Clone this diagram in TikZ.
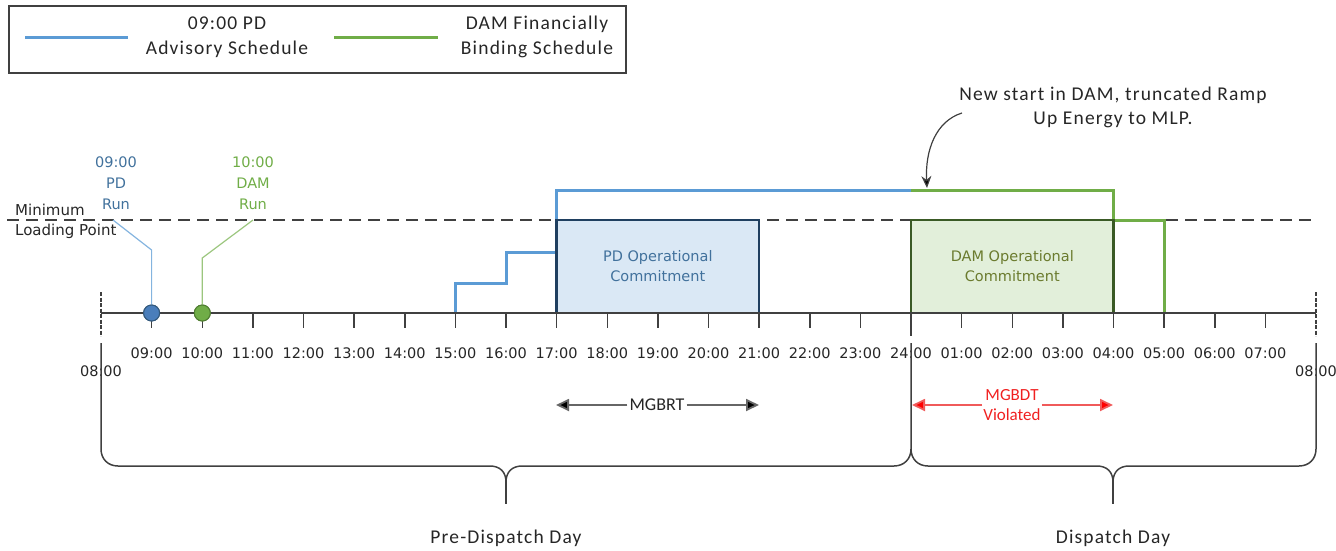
\documentclass[tikz,border=0pt]{standalone}
\usepackage{fontspec}
\setmainfont{Carlito}
\newfontfamily\dvs{DejaVu Sans}
\newfontfamily\calsp{Carlito}[LetterSpace=6]
\usetikzlibrary{arrows.meta}
\definecolor{pdblue}{HTML}{5B9BD5}
\definecolor{pdtext}{HTML}{41719C}
\definecolor{pddot}{HTML}{4A7EBB}
\definecolor{damgreen}{HTML}{70AD47}
\definecolor{damdot}{HTML}{507E32}
\definecolor{pdfill}{HTML}{DAE8F5}
\definecolor{pdedge}{HTML}{1F3F60}
\definecolor{damfill}{HTML}{E2EFDA}
\definecolor{damedge}{HTML}{3A5A25}
\definecolor{damtext}{HTML}{6B7B2E}
\definecolor{axisgray}{HTML}{404040}
\definecolor{txt}{HTML}{262626}
\definecolor{redtxt}{HTML}{F02020}
\definecolor{redline}{HTML}{F05A5A}
\tikzset{
  legendbox/.style={draw=axisgray, line width=1.5pt, minimum width=617pt, minimum height=67pt, inner sep=0pt, outer sep=0pt},
  legtext/.style={font=\calsp\fontsize{19.5}{25}\selectfont, text=txt, align=center, inner sep=0pt},
  pdsched/.style={draw=pdblue, line width=3pt},
  damsched/.style={draw=damgreen, line width=3pt},
  mlpline/.style={draw=axisgray, line width=1.5pt, dash pattern=on 12pt off 7pt},
  smalltext/.style={font=\dvs\fontsize{15}{20}\selectfont, text=txt, inner sep=0pt},
  timelbl/.style={font=\dvs\fontsize{14.5}{17}\selectfont, text=txt, inner sep=0pt},
  runtext/.style={font=\dvs\fontsize{14.5}{21}\selectfont, align=center, inner sep=0pt},
  pdbox/.style={draw=pdedge, line width=2.5pt, fill=pdfill, minimum width=202.5pt, minimum height=93pt, inner sep=0pt, outer sep=0pt, align=center, text=pdtext, font=\dvs\fontsize{14.5}{20}\selectfont},
  dambox/.style={draw=damedge, line width=2.5pt, fill=damfill, minimum width=202.5pt, minimum height=93pt, inner sep=0pt, outer sep=0pt, align=center, text=damtext, font=\dvs\fontsize{14.5}{20}\selectfont},
  axis/.style={draw=axisgray, line width=1.5pt},
  tick/.style={draw=axisgray, line width=1.5pt},
  endtick/.style={draw=axisgray, line width=2.2pt, dash pattern=on 4pt off 1.5pt},
  brace/.style={draw=axisgray, line width=1.5pt},
  dot/.style={circle, minimum size=16pt, inner sep=0pt, line width=1pt},
  runline/.style={line width=1.2pt},
  mglbl/.style={font=\fontsize{18}{20}\selectfont, inner sep=2pt, align=center},
  annot/.style={font=\calsp\fontsize{19.5}{24}\selectfont, text=txt, align=center, inner sep=0pt},
  daylbl/.style={font=\calsp\fontsize{19.5}{24}\selectfont, text=txt, inner sep=0pt},
  mgtip/.style={-{Triangle[length=13pt,width=12pt,fill=#1]}}
}
\begin{document}
\begin{tikzpicture}[x=1pt,y=-1pt]
\useasboundingbox (0,0) rectangle (1336,550);

% legend
\node[legendbox] (legend) at (317.5,39.5) {};
\coordinate (lbA) at (25,37); \coordinate (lbB) at (128,37);
\draw[pdsched] (lbA) -- (lbB);
\coordinate (lgA) at (334,37); \coordinate (lgB) at (438,37);
\draw[damsched] (lgA) -- (lgB);
\node[legtext] (legpd) at (227,37) {09:00 PD\\Advisory Schedule};
\node[legtext] (legdam) at (537,37) {DAM Financially\\Binding Schedule};

% minimum loading point
\coordinate (mlpL) at (7,220); \coordinate (mlpR) at (1317,220);
\draw[mlpline] (mlpL) -- (mlpR);
\node[smalltext, anchor=west, align=left] (mlp) at (15,221) {Minimum\\Loading Point};

% schedules
\coordinate (b0) at (455.4,313); \coordinate (b1) at (455.4,283);
\coordinate (b2) at (506,283); \coordinate (b3) at (506,252);
\coordinate (b4) at (556.6,252); \coordinate (b5) at (556.6,190);
\coordinate (sw) at (911,190);
\draw[pdsched, line join=miter] (b0) -- (b1) -- (b2) -- (b3) -- (b4) -- (b5) -- (sw);
\coordinate (g1) at (1113.5,190); \coordinate (g2) at (1113.5,220);
\coordinate (g3) at (1164,220); \coordinate (g4) at (1164,313);
\draw[damsched, line join=miter] (sw) -- (g1) -- (g2) -- (g3) -- (g4);

% operational commitment boxes
\node[pdbox] (pdbox) at (657.8,266.5) {PD Operational\\Commitment};
\node[dambox] (dambox) at (1012.3,266.5) {DAM Operational\\Commitment};

% axis
\coordinate (axL) at (101,313); \coordinate (axR) at (1316,313);
\draw[axis] (axL) -- (axR);
\foreach \h in {1,...,23} \draw[tick] ({101+50.625*\h},313) -- ++(0,15);
\draw[tick, line width=2pt] (911,313) -- (911,336);
\draw[endtick] (101,292) -- (101,336);
\draw[endtick] (1316,292) -- (1316,336);
\foreach \h/\t in {1/09:00,2/10:00,3/11:00,4/12:00,5/13:00,6/14:00,7/15:00,8/16:00,9/17:00,10/18:00,11/19:00,12/20:00,13/21:00,14/22:00,15/23:00,16/24:00,17/01:00,18/02:00,19/03:00,20/04:00,21/05:00,22/06:00,23/07:00}
  \node[timelbl] (t\h) at ({101+50.625*\h},353) {\t};
\node[timelbl] (t0) at (101,371) {08:00};
\node[timelbl] (t24) at (1316,371) {08:00};

% braces
\draw[brace] (101,343) -- (101,449) .. controls (101,459) and (108,466) .. (118,466) -- (490,466)
  .. controls (500,466) and (506,472) .. (506,482) .. controls (506,472) and (512,466) .. (522,466)
  -- (894,466) .. controls (904,466) and (911,459) .. (911,449) -- (911,343);
\draw[brace] (911,449) .. controls (911,459) and (918,466) .. (928,466) -- (1097,466)
  .. controls (1107,466) and (1113,472) .. (1113,482) .. controls (1113,472) and (1119,466) .. (1129,466)
  -- (1299,466) .. controls (1309,466) and (1316,459) .. (1316,449) -- (1316,343);
\coordinate (s1a) at (506,482); \coordinate (s1b) at (506,504);
\coordinate (s2a) at (1113,482); \coordinate (s2b) at (1113,504);
\draw[brace] (s1a) -- (s1b);
\draw[brace] (s2a) -- (s2b);
\node[daylbl] (pre) at (506,538) {Pre-Dispatch Day};
\node[daylbl] (disp) at (1113,538) {Dispatch Day};

% run markers
\coordinate (pdk) at (151.6,250); \coordinate (pdend) at (113,220);
\coordinate (damk) at (202.3,258); \coordinate (damend) at (253,220);
\node[dot, fill=pddot, draw=pdtext!80!black] (pdrun) at (151.6,313) {};
\node[dot, fill=damgreen, draw=damdot] (damrun) at (202.3,313) {};
\draw[runline, pdblue!75] (pdrun) -- (pdk) -- (pdend);
\draw[runline, damgreen!70] (damrun) -- (damk) -- (damend);
\node[dot, fill=pddot, draw=pdtext!80!black] at (151.6,313) {};
\node[dot, fill=damgreen, draw=damdot] at (202.3,313) {};
\node[runtext, text=pdtext] (pdlbl) at (116,183) {09:00\\PD\\Run};
\node[runtext, text=damgreen] (damlbl) at (253,183) {10:00\\DAM\\Run};

% MGBRT / MGBDT
\node[mglbl, text=txt] (mgbrt) at (657,405) {MGBRT};
\coordinate (brL) at (556,405); \coordinate (brR) at (759,405);
\draw[line width=1.8pt, draw=black!60, mgtip=black] (mgbrt.west) -- (brL);
\draw[line width=1.8pt, draw=black!60, mgtip=black] (mgbrt.east) -- (brR);
\node[mglbl, text=redtxt, inner sep=1pt, font=\fontsize{17}{20}\selectfont] (mgbdt) at (1012,405) {MGBDT\\Violated};
\coordinate (bdL) at (912,405); \coordinate (bdR) at (1113,405);
\draw[line width=1.8pt, draw=redline, mgtip=red] (mgbdt.west |- bdL) -- (bdL);
\draw[line width=1.8pt, draw=redline, mgtip=red] (mgbdt.east |- bdR) -- (bdR);

% annotation
\node[annot] (ann) at (1113,107) {New start in DAM, truncated Ramp\\Up Energy to MLP.};
\coordinate (annS) at (962,113); \coordinate (annE) at (927,188);
\draw[line width=1.2pt, draw=black!75, -{Stealth[length=12pt,width=10pt,fill=black]}] (annS) .. controls (936,121) and (925,150) .. (annE);
\end{tikzpicture}
\end{document}
